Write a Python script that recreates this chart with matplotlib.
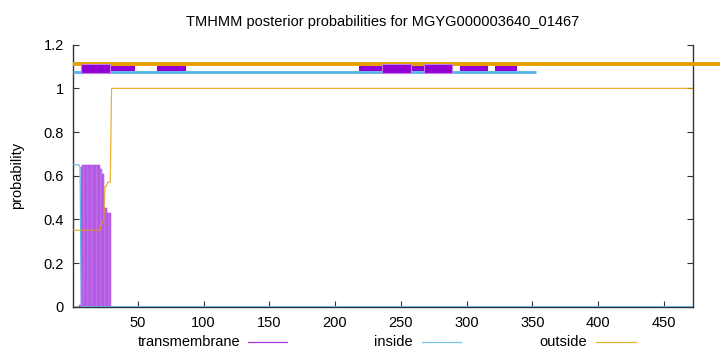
import numpy as np
import matplotlib
matplotlib.use("Agg")
import matplotlib.pyplot as plt
from matplotlib.patches import Rectangle
from matplotlib.lines import Line2D

plt.rcParams["font.family"] = ["Liberation Sans", "DejaVu Sans"]

seq_len = 472
title = "TMHMM posterior probabilities for MGYG000003640_01467"

# per-residue posteriors for residues 1..30, flat after that
head_tm = [0, 0, 0, 0, 0, 0.01, 0.64,
           0.65, 0.65, 0.65, 0.65, 0.65, 0.65, 0.65, 0.65, 0.65, 0.65, 0.65, 0.65, 0.65, 0.65,
           0.63, 0.61, 0.61, 0.45, 0.45, 0.43, 0.43, 0.43, 0]
head_inside = [0.65, 0.65, 0.65, 0.65, 0.65, 0.64, 0,
               0, 0, 0, 0, 0, 0, 0, 0, 0, 0, 0, 0, 0, 0,
               0, 0, 0, 0, 0, 0, 0, 0, 0]
head_outside = [0.35, 0.35, 0.35, 0.35, 0.35, 0.35, 0.35,
                0.35, 0.35, 0.35, 0.35, 0.35, 0.35, 0.35, 0.35, 0.35, 0.35, 0.35, 0.35, 0.35, 0.35,
                0.37, 0.39, 0.39, 0.55, 0.55, 0.57, 0.57, 0.57, 1.0]
tail_tm = 0.0
tail_inside = 0.0
tail_outside = 1.0

# topology strip above the plot
tm_segments = [(7, 29), (235.6, 257.4), (267.3, 289.1)]
thin_segments = [(29, 48), (64.7, 86.7), (218, 235.6), (257.4, 267.3),
                 (294.7, 316.2), (321.3, 338.2)]
inside_strip = (1, 353)
outside_strip = (1, 495)

purple = "#9400d3"
blue = "#56b4e9"
orange = "#e69f00"

n_tail = seq_len - len(head_tm)
pos = np.arange(1, seq_len + 1)
tm = np.concatenate([head_tm, np.full(n_tail, tail_tm)])
inside = np.concatenate([head_inside, np.full(n_tail, tail_inside)])
outside = np.concatenate([head_outside, np.full(n_tail, tail_outside)])

fig = plt.figure(figsize=(7.2, 3.52), dpi=100)
ax = fig.add_axes([0.102, 0.1287, 0.86, 0.7443])

ax.bar(pos, tm, width=1.0, color="#c878ec", edgecolor="#a648dc",
       linewidth=0.35, zorder=2)
ax.plot(pos, inside, color=blue, lw=0.9, alpha=0.9, zorder=3)
ax.plot(pos, outside, color=orange, lw=0.9, alpha=0.8, zorder=3)

# strip lines
ax.plot(outside_strip, [1.11, 1.11], color=orange, lw=2.8, clip_on=False,
        solid_capstyle="butt", zorder=4)
ax.plot(inside_strip, [1.074, 1.074], color=blue, lw=2.0, clip_on=False,
        solid_capstyle="butt", zorder=4)
for a, b in thin_segments:
    ax.add_patch(Rectangle((a, 1.081), b - a, 0.021, facecolor=purple,
                           edgecolor="none", clip_on=False, zorder=5))
for a, b in tm_segments:
    ax.add_patch(Rectangle((a, 1.069), b - a, 0.044, facecolor=purple,
                           edgecolor="#c080e6", lw=0.8, clip_on=False, zorder=6))

ax.set_xlim(1, seq_len)
ax.set_ylim(0, 1.2)
ax.set_xticks(range(50, 451, 50))
ax.set_yticks([0, 0.2, 0.4, 0.6, 0.8, 1.0, 1.2])
ax.set_yticklabels(["0", "0.2", "0.4", "0.6", "0.8", "1", "1.2"])
ax.tick_params(direction="in", length=4, width=0.8, labelsize=10.5, pad=7,
               colors="#333333", labelcolor="black")
ax.tick_params(axis="y", right=True)
ax.spines["top"].set_visible(False)
for s in ["left", "right", "bottom"]:
    ax.spines[s].set_color("#333333")
    ax.spines[s].set_linewidth(1.0)
ax.set_ylabel("probability", fontsize=10.5, labelpad=14)
fig.text(0.532, 0.938, title, ha="center", va="center", fontsize=10.5)

# legend along the bottom
leg_y = 1 - 341.7 / 352
legend_items = [("transmembrane", purple, 240, 248, 287),
                ("inside", blue, 412.7, 422, 461),
                ("outside", orange, 586.7, 596, 636)]
for label, col, tx, l0, l1 in legend_items:
    fig.text(tx / 720, leg_y, label, ha="right", va="center", fontsize=10.5)
    fig.add_artist(Line2D([l0 / 720, l1 / 720], [leg_y, leg_y], color=col,
                          lw=0.9, alpha=0.8, transform=fig.transFigure))

fig.savefig("out.png", dpi=100)
